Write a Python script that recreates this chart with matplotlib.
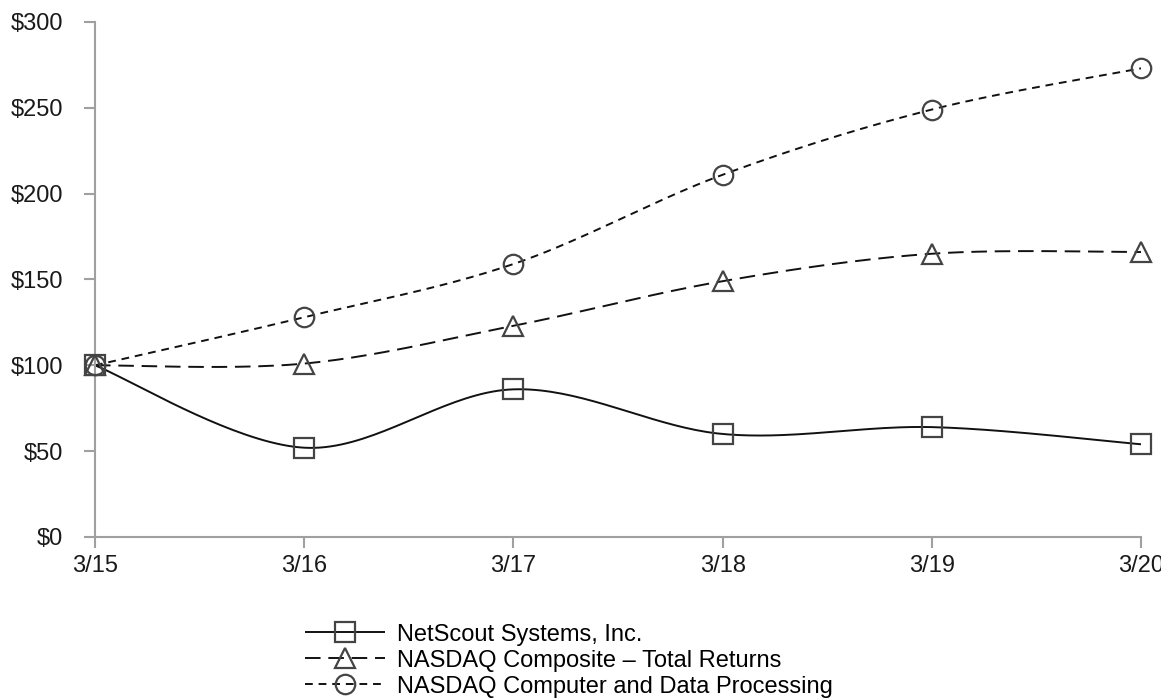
import matplotlib.pyplot as plt
import numpy as np

plt.rcParams['font.family'] = ['Liberation Sans', 'DejaVu Sans']

dates = ['3/15', '3/16', '3/17', '3/18', '3/19', '3/20']
netscout = [100, 52, 86, 60, 64, 54]
composite = [100, 101, 123, 149, 165, 166]
computer = [100, 128, 159, 211, 249, 273]


def smooth(x, y, n=40):
    # Excel-style smoothed line: cubic Bezier through the points
    x = np.asarray(x, float)
    y = np.asarray(y, float)
    px, py = [], []
    for i in range(len(x) - 1):
        x0, y0 = (x[i - 1], y[i - 1]) if i > 0 else (x[i], y[i])
        x3, y3 = (x[i + 2], y[i + 2]) if i + 2 < len(x) else (x[i + 1], y[i + 1])
        c1x = x[i] + (x[i + 1] - x0) / 6
        c1y = y[i] + (y[i + 1] - y0) / 6
        c2x = x[i + 1] - (x3 - x[i]) / 6
        c2y = y[i + 1] - (y3 - y[i]) / 6
        t = np.linspace(0, 1, n)
        px.append((1 - t) ** 3 * x[i] + 3 * (1 - t) ** 2 * t * c1x + 3 * (1 - t) * t ** 2 * c2x + t ** 3 * x[i + 1])
        py.append((1 - t) ** 3 * y[i] + 3 * (1 - t) ** 2 * t * c1y + 3 * (1 - t) * t ** 2 * c2y + t ** 3 * y[i + 1])
    return np.concatenate(px), np.concatenate(py)


fig = plt.figure(figsize=(11.61, 7), dpi=100)
ax = fig.add_axes([0.0818, 0.2329, 0.9010, 0.7357])

xs = np.arange(len(dates))
series = [
    (netscout, 'NetScout Systems, Inc.', 's', (0, ())),
    (composite, 'NASDAQ Composite \u2013 Total Returns', '^', (0, (8, 4))),
    (computer, 'NASDAQ Computer and Data Processing', 'o', (0, (4, 3))),
]

handles = []
for vals, label, mk, ls in series:
    sx, sy = smooth(xs, vals)
    ax.plot(sx, sy, color='#111111', lw=1.4, linestyle=ls, zorder=2)
    ax.plot(xs, vals, linestyle='none', marker=mk, markersize=14, clip_on=False,
            markerfacecolor='none', markeredgecolor='#444444', markeredgewidth=1.6, zorder=3)
    h, = ax.plot([], [], color='#111111', lw=1.4, linestyle=ls, marker=mk, markersize=14,
                 markerfacecolor='none', markeredgecolor='#444444', markeredgewidth=1.6)
    handles.append(h)

ax.set_xlim(0, len(dates) - 1)
ax.set_ylim(0, 300)
ax.set_yticks(np.arange(0, 301, 50))
ax.set_yticklabels(['$%d' % v for v in range(0, 301, 50)])
ax.set_xticks(xs)
ax.set_xticklabels(dates)

for s in ['top', 'right']:
    ax.spines[s].set_visible(False)
for s in ['left', 'bottom']:
    ax.spines[s].set_color('#a0a0a0')
    ax.spines[s].set_linewidth(1.5)
ax.tick_params(axis='both', colors='#a0a0a0', width=1.5, length=8, labelsize=17,
               labelcolor='#1a1a1a')
ax.tick_params(axis='x', pad=5)
ax.tick_params(axis='y', pad=15)
ax.patch.set_visible(False)

fig.legend(handles=handles, labels=[s[1] for s in series], loc='upper left',
           bbox_to_anchor=(0.2627, 0.109), frameon=False, fontsize=17,
           handlelength=3.4, handletextpad=0.5, labelspacing=0.17, borderpad=0,
           borderaxespad=0)

fig.savefig('out.png', dpi=100)
